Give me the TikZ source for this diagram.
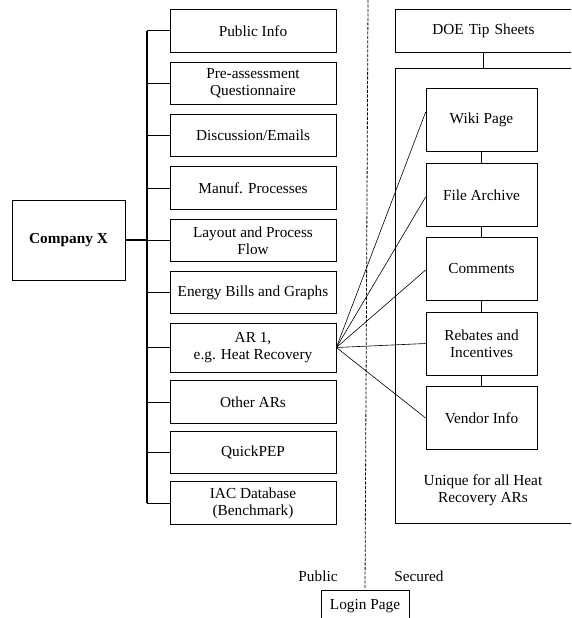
\documentclass[tikz,border=0pt]{standalone}
\usepackage{fontspec}
\setmainfont{Liberation Serif}
\usetikzlibrary{calc}
\begin{document}
\begin{tikzpicture}[x=1pt,y=-1pt,
  every node/.style={font=\fontsize{15.3}{17}\selectfont},
  box/.style={draw,line width=0.7pt,align=center,inner sep=0pt},
  lbox/.style={box,minimum width=166pt,minimum height=42.5pt},
  ibox/.style={box,minimum width=111pt,minimum height=63pt},
  link/.style={line width=0.6pt},
  trunk/.style={line width=1.3pt}]
\path[use as bounding box,clip] (0,0) rectangle (571,618);
% left column
\node[lbox] (pub) at (253,30.75) {Public Info};
\node[lbox] (pre) at (253,83.5) {Pre-assessment\\Questionnaire};
\node[lbox] (disc) at (253,135.5) {Discussion/Emails};
\node[lbox] (man) at (253,188) {Manuf. Processes};
\node[lbox] (lay) at (253,240.5) {Layout and Process\\Flow};
\node[lbox] (en) at (253,292.5) {Energy Bills and Graphs};
\node[lbox,minimum height=49pt] (ar) at (253,347.5) {AR 1,\\e.g. Heat Recovery};
\node[lbox] (oth) at (253,402) {Other ARs};
\node[lbox] (qp) at (253,452.5) {QuickPEP};
\node[lbox] (iac) at (253,503) {IAC Database\\(Benchmark)};
\node[box,minimum width=113pt,minimum height=80pt,font=\fontsize{15.3}{17}\selectfont\bfseries] (cx) at (68.5,240) {Company X};
\coordinate (tt) at (147,0);
\draw[trunk] (pub.west -| tt) -- (iac.west -| tt);
\draw[trunk] (cx.east) -- (cx.east -| tt);
\foreach \n in {pub,pre,disc,man,lay,en,ar,oth,qp,iac}
  \draw[link] (\n.west -| tt) -- (\n.west);
% right side
\node[box,minimum width=178pt,minimum height=42.5pt,anchor=north west,text width=176pt,align=left] (doe) at (395,9.5) {\hspace*{36pt}DOE Tip Sheets};
\node[box,minimum width=178pt,minimum height=455pt,anchor=north west] (big) at (395,68) {};
\draw[link] (doe.south -| 483,0) -- (big.north -| 483,0);
\node[ibox] (wiki) at (481.5,120) {Wiki Page};
\node[ibox] (file) at (481.5,195) {File Archive};
\node[ibox] (com) at (481.5,268.5) {Comments};
\node[ibox] (reb) at (481.5,343.5) {Rebates and\\Incentives};
\node[ibox] (ven) at (481.5,418) {Vendor Info};
\draw[link] (wiki) -- (file);
\draw[link] (file) -- (com);
\draw[link] (com) -- (reb);
\draw[link] (reb) -- (ven);
\node[align=center] (uniq) at (483,490) {Unique for all Heat\\Recovery ARs};
% fan
\draw[link] (ar.east) -- ($(wiki.west)+(0,-8)$);
\draw[link] (ar.east) -- ($(file.west)+(0,2)$);
\draw[link] (ar.east) -- ($(com.west)+(0,1.5)$);
\draw[link] (ar.east) -- (reb.west);
\draw[link] (ar.east) -- (ven.west);
% public / secured
\node[box,minimum width=88pt,minimum height=32pt] (login) at (365,606) {Login Page};
\coordinate (dtop) at (368,0);
\draw[line width=0.8pt,dash pattern=on 3pt off 1.5pt] (dtop) -- (login.north);
\node (publ) at (318,576) {Public};
\node (sec) at (419,576) {Secured};
\end{tikzpicture}
\end{document}
